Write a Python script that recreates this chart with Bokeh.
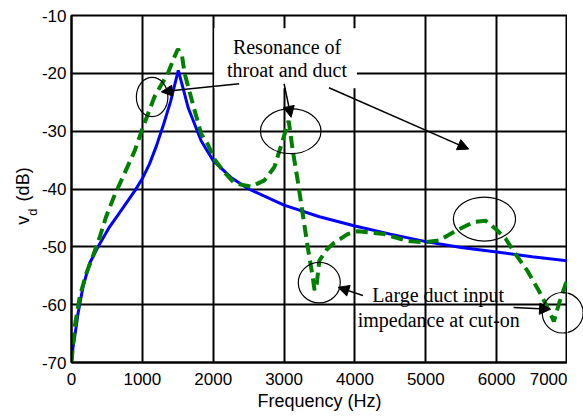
import numpy as np
from bokeh.plotting import figure
from bokeh.layouts import row
from bokeh.models import (FixedTicker, Label, Arrow, NormalHead, BoxAnnotation,
                          Range1d, CustomJSTickFormatter)
from bokeh.core.properties import value
from bokeh.embed import file_html
from bokeh.resources import INLINE

# ---------------- data ----------------
freq_blue = [0, 20, 46, 94, 164, 258, 375, 540, 650, 775, 900, 1000, 1100, 1200,
             1300, 1400, 1507, 1580, 1648, 1831, 2000, 2250, 2500, 3000, 3500,
             4000, 4500, 5000, 5500, 6000, 6500, 7000]
vd_blue = [-70, -67.5, -65.5, -61.4, -56.8, -52.8, -50, -46.5, -44.6, -42.4, -40.2,
           -38.2, -35.7, -32.5, -28.8, -24.8, -19.5, -22.8, -26, -31.7, -35.1,
           -38, -40, -42.8, -44.8, -46.4, -47.8, -49.1, -50.1, -50.9, -51.7, -52.4]

freq_green = [0, 20, 46, 117, 211, 305, 399, 488, 607, 700, 892, 1009, 1173, 1361,
              1440, 1502, 1560, 1596, 1737, 1831, 1925, 2019, 2150, 2300, 2535,
              2723, 2864, 2981, 3065, 3122, 3192, 3263, 3333, 3404, 3430, 3460,
              3498, 3600, 3709, 3897, 4038, 4413, 4742, 5000, 5187, 5446, 5681,
              5845, 5986, 6127, 6268, 6432, 6596, 6714, 6808, 6883, 6944, 7000]
vd_green = [-70, -67, -63.8, -58.6, -54.5, -51.5, -48.3, -44.8, -41.1, -38.6, -33.4,
            -29.3, -24, -20, -17.5, -15.8, -17, -20, -26.4, -30.5, -32.3, -34.9,
            -37, -39, -39.6, -38.5, -36.2, -31.6, -28.2, -33.3, -38.5, -44.3, -50,
            -55.2, -57.5, -56.5, -52.4, -50.5, -49.3, -47.8, -47.3, -47.8, -49,
            -49.2, -48.9, -47.1, -45.7, -45.5, -46.9, -48.6, -51.3, -54.1, -57.6,
            -60.4, -62.9, -59.7, -57.5, -55.5]

x_ticks = [0, 1000, 2000, 3000, 4000, 5000, 6000, 7000]
y_ticks = [-70, -60, -50, -40, -30, -20, -10]

# annotation ellipses: centre freq, centre dB, width (Hz), height (dB)
ell_x = [1138, 3094, 3497, 5828, 6932]
ell_y = [-24.1, -30.0, -56.2, -45.2, -61.4]
ell_w = [445, 854, 592, 878, 577]
ell_h = [6.8, 7.8, 7.0, 7.6, 7.0]

# arrows: start -> end
arr_x0 = [2366, 3000, 3634, 4113, 6239]
arr_y0 = [-21.8, -21.8, -22.5, -58.4, -60.5]
arr_x1 = [1268, 3099, 5606, 3761, 6761]
arr_y1 = [-23.2, -27.6, -33.1, -57.0, -60.8]

# y-axis title pieces (v, subscript d, (dB)) in the left strip
lab_t = ["v", "d", "(dB)"]
lab_x = [22, 31.5, 22]          # strip pixels from its left edge
lab_y = [-45.4, -44.0, -39.2]   # dB
lab_s = ["18px", "13px", "18px"]

LEFT_W = 38
RIGHT_W = 16
TOP_B = 15
BOT_B = 54

y_rng = Range1d(-70, -10)

# ---------------- main figure ----------------
p = figure(width=583 - LEFT_W - RIGHT_W, height=416, output_backend="svg",
           toolbar_location=None, x_range=Range1d(0, 7000), y_range=y_rng,
           min_border_left=70 - LEFT_W, min_border_right=0, min_border_top=TOP_B,
           min_border_bottom=BOT_B)
p.background_fill_color = "white"
p.border_fill_color = "white"
p.outline_line_color = "black"
p.outline_line_width = 2

fmt = CustomJSTickFormatter(code="return tick.toFixed(0);")
for ax in (p.xaxis[0], p.yaxis[0]):
    ax.formatter = fmt
    ax.major_label_text_font = "Liberation Sans"
    ax.major_label_text_font_size = "17px"
    ax.major_label_text_color = "black"
    ax.major_tick_out = 0
    ax.major_tick_in = 0
    ax.minor_tick_out = 0
    ax.minor_tick_in = 0
    ax.axis_line_color = "black"
    ax.axis_line_width = 2

p.xaxis.ticker = FixedTicker(ticks=x_ticks)
p.yaxis.ticker = FixedTicker(ticks=y_ticks)
p.xaxis.major_label_standoff = 10
p.yaxis.major_label_standoff = 5
p.xaxis.axis_label = "Frequency (Hz)"
p.xaxis.axis_label_text_font = "Liberation Sans"
p.xaxis.axis_label_text_font_size = "18px"
p.xaxis.axis_label_text_font_style = "normal"
p.xaxis.axis_label_text_color = "black"
p.xaxis.axis_label_standoff = 3

p.xgrid.ticker = FixedTicker(ticks=x_ticks)
p.ygrid.ticker = FixedTicker(ticks=y_ticks)
p.grid.grid_line_color = "black"
p.grid.grid_line_width = 2
p.grid.grid_line_alpha = 1

# white box behind the upper annotation text
p.add_layout(BoxAnnotation(left=2014, right=4028, top=-12.2, bottom=-22.6,
                           fill_color="white", fill_alpha=1, line_alpha=0,
                           level="underlay"))

# curves
p.line(freq_blue, vd_blue, line_color="#0000ff", line_width=3)
p.line(freq_green, vd_green, line_color="#008000", line_width=4, line_dash="12 6")

# ellipses
p.ellipse(x=ell_x, y=ell_y, width=ell_w, height=ell_h, fill_color=None,
          line_color="black", line_width=1.2)

# arrows
for x0, y0, x1, y1 in zip(arr_x0, arr_y0, arr_x1, arr_y1):
    p.add_layout(Arrow(end=NormalHead(size=11, fill_color="black", line_color="black"),
                       x_start=x0, y_start=y0, x_end=x1, y_end=y1,
                       line_color="black", line_width=1.5))

def txt(x, y, s):
    p.add_layout(Label(x=x, y=y, text=s, text_font="Liberation Serif",
                       text_font_size="20px", text_align="center",
                       text_baseline="middle", text_color="black"))

txt(3042, -15.4, "Resonance of")
txt(3042, -19.5, "throat and duct")
txt(5176, -58.4, "Large duct input")
txt(5183, -62.7, "impedance at cut-on")

# ---------------- left strip: y axis label  v_d (dB) ----------------
pl = figure(width=LEFT_W, height=416, output_backend="svg", toolbar_location=None,
            x_range=Range1d(0, LEFT_W), y_range=y_rng,
            x_axis_location=None, y_axis_location=None,
            min_border_left=0, min_border_right=0, min_border_top=TOP_B,
            min_border_bottom=BOT_B)
pl.outline_line_color = None
pl.grid.visible = False
pl.text(x=lab_x, y=lab_y, text=lab_t, angle=np.pi / 2,
        text_font=value("Liberation Sans"), text_font_size=lab_s,
        text_align="center", text_baseline="middle", text_color="black")

# ---------------- right strip: overflow of the last ellipse ----------------
pr = figure(width=RIGHT_W, height=416, output_backend="svg", toolbar_location=None,
            x_range=Range1d(7000, 7000 + RIGHT_W * 7000 / 497), y_range=y_rng,
            x_axis_location=None, y_axis_location=None,
            min_border_left=0, min_border_right=0, min_border_top=TOP_B,
            min_border_bottom=BOT_B)
pr.outline_line_color = None
pr.grid.visible = False
pr.ellipse(x=ell_x[-1:], y=ell_y[-1:], width=ell_w[-1:], height=ell_h[-1:],
           fill_color=None, line_color="black", line_width=1.2)

layout = row(pl, p, pr, spacing=0)
open("out.html", "w").write(file_html(layout, INLINE))
